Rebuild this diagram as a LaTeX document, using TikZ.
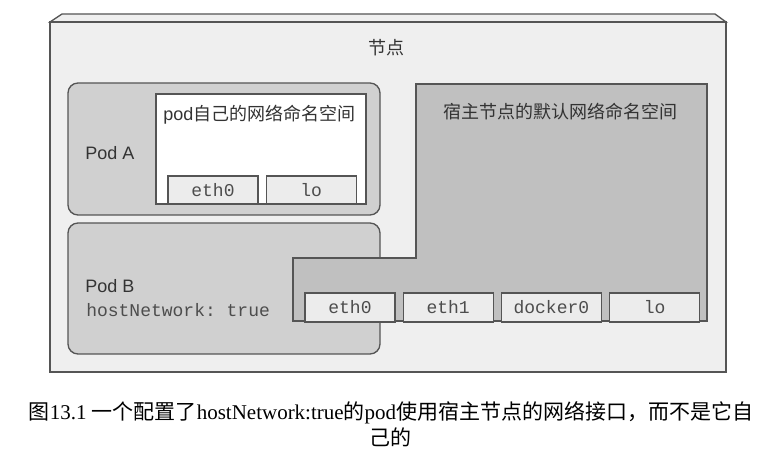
\documentclass[tikz,border=0pt]{standalone}
\usepackage{fontspec}
\setmainfont{Liberation Serif}
\setsansfont{Liberation Sans}
\setmonofont{Liberation Mono}
\newfontfamily\cjk{Noto Sans CJK SC}
\usetikzlibrary{positioning}
\definecolor{linegray}{HTML}{555555}
\definecolor{nodegray}{HTML}{EFEFEF}
\definecolor{podgray}{HTML}{D0D0D0}
\definecolor{nsgray}{HTML}{C0C0C0}
\definecolor{ifgray}{HTML}{ECECEC}
\definecolor{textgray}{HTML}{333333}
\definecolor{monogray}{HTML}{4D4D4D}

\begin{document}
\begin{tikzpicture}[x=0.75pt,y=-0.75pt,
  nodebox/.style={draw=linegray,fill=nodegray,line width=1pt},
  pod/.style={draw=linegray,fill=podgray,line width=1pt,rounded corners=7.5pt,
    minimum width=234pt,minimum height=99pt,inner sep=0pt},
  nsbox/.style={draw=linegray,line width=1pt},
  iface/.style={draw=linegray,fill=ifgray,line width=0.9pt,inner sep=0pt,
    minimum width=67.5pt,minimum height=21pt,text=monogray,
    font=\ttfamily\fontsize{13.5}{16}\selectfont},
  txt/.style={inner sep=0pt,text=textgray,font=\sffamily\fontsize{13.5}{16}\selectfont},
  node distance=5.25pt]
  \useasboundingbox (0,0) rectangle (769,449);

  % node
  \draw[nodebox] (50,22) -- (62,14) -- (715,14) -- (726,22) -- cycle;
  \node[nodebox,minimum width=507pt,minimum height=262.5pt] (host) at (388,197) {};
  \node[txt] (hosttitle) at (386,48) {\cjk 节点};

  % pods
  \node[pod] (podA) at (224,149) {};
  \node[pod,minimum height=98.25pt] (podB) at (224,288.5) {};
  \node[txt,anchor=west] (podAname) at (85,153) {Pod A};
  \node[txt,anchor=west] (podBname) at (85,286) {Pod B};
  \node[txt,anchor=west,text=monogray,font=\ttfamily\fontsize{13.5}{16}\selectfont] (podBnet) at (86,310) {hostNetwork: true};

  % pod A namespace
  \node[nsbox,fill=white,minimum width=157.5pt,minimum height=82.5pt] (podAns) at (261,149) {};
  \node[txt,anchor=west] (podAnstitle) at (163,115) {pod{\cjk 自己的网络命名空间}};
  \node[iface] (aeth0) at (213,190) {eth0};
  \node[iface,right=of aeth0] (alo) {lo};

  % host namespace
  \draw[nsbox,fill=nsgray] (416,84) -- (707,84) -- (707,321) -- (293,321) -- (293,258) -- (416,258) -- cycle;
  \node[txt] (hostnstitle) at (560,112) {\cjk 宿主节点的默认网络命名空间};
  \node[iface,minimum height=21.75pt] (heth0) at (350,307.5) {eth0};
  \node[iface,minimum height=21.75pt,right=of heth0] (heth1) {eth1};
  \node[iface,minimum height=21.75pt,minimum width=75pt,right=of heth1] (hdocker) {docker0};
  \node[iface,minimum height=21.75pt,right=of hdocker] (hlo) {lo};

  % caption
  \node[align=center,inner sep=0pt,font=\fontsize{15.75}{19.5}\selectfont] (caption) at (391,424)
    {{\cjk 图}13.1 {\cjk 一个配置了}hostNetwork:true{\cjk 的}pod{\cjk 使用宿主节点的网络接口，而不是它自}\\{\cjk 己的}};
\end{tikzpicture}
\end{document}
